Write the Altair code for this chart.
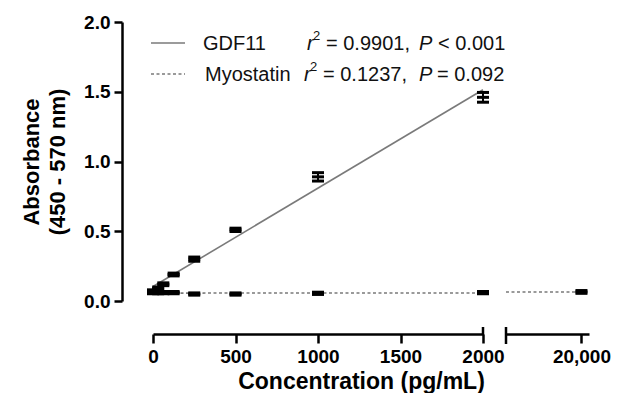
import altair as alt
import pandas as pd

# ---- data ----
conc = [0, 31.25, 62.5, 125, 250, 500, 1000, 2000]
gdf11_mean = [0.07, 0.09, 0.12, 0.19, 0.30, 0.51, 0.89, 1.46]
gdf11_err = [0.01, 0.01, 0.01, 0.01, 0.015, 0.012, 0.03, 0.035]

myo_conc = [0, 31.25, 62.5, 125, 250, 500, 1000, 2000, 20000]
myo_mean = [0.06, 0.06, 0.06, 0.06, 0.05, 0.05, 0.055, 0.06, 0.065]
myo_err = [0.008, 0.008, 0.008, 0.008, 0.008, 0.008, 0.008, 0.008, 0.01]

x_ticks_left = [0, 500, 1000, 1500, 2000]
x_ticks_right = [20000]
y_ticks = [0, 0.5, 1.0, 1.5, 2.0]

gdf = pd.DataFrame({"conc": conc, "mean": gdf11_mean, "err": gdf11_err})
gdf["lo"] = gdf["mean"] - gdf["err"]
gdf["hi"] = gdf["mean"] + gdf["err"]
myo = pd.DataFrame({"conc": myo_conc, "mean": myo_mean, "err": myo_err})
myo["lo"] = myo["mean"] - myo["err"]
myo["hi"] = myo["mean"] + myo["err"]
one = pd.DataFrame({"k": [0]})

FONT = "Liberation Sans"
LINE = "#7a7a7a"

ys = alt.Scale(domain=[0, 2], nice=False, zero=False)
xs_left = alt.Scale(domain=[0, 2000], nice=False, zero=False)
xs_right = alt.Scale(domain=[19000, 20100], nice=False, zero=False)

axis_common = dict(
    grid=False, domainColor="black", domainWidth=2.5, tickColor="black",
    tickWidth=2.5, labelFont=FONT, labelFontWeight="bold", labelColor="black",
    titleFont=FONT, titleFontWeight="bold", titleColor="black",
)

x_axis_left = alt.Axis(
    values=x_ticks_left, offset=33, tickSize=9, labelFontSize=19, labelPadding=4,
    labelExpr="format(datum.value, 'd')",
    title="Concentration (pg/mL)", titleFontSize=23, titlePadding=4, titleX=208,
    labelFlush=False, **axis_common,
)
x_axis_right = alt.Axis(
    values=x_ticks_right, offset=33, tickSize=9, labelFontSize=19, labelPadding=4,
    labelExpr="format(datum.value, ',d')", title=None, labelFlush=False, **axis_common,
)
y_axis = alt.Axis(
    values=y_ticks, format=".1f", offset=31, tickSize=8, labelFontSize=19,
    labelPadding=4, title=["Absorbance", "(450 - 570 nm)"], titleFontSize=22,
    titlePadding=14, titleLineHeight=26, **axis_common,
)

X_L = alt.X("conc:Q", scale=xs_left, axis=x_axis_left)
Y_L = alt.Y("mean:Q", scale=ys, axis=y_axis)


def errbars(data, xscale, xaxis, yaxis):
    base = alt.Chart(data)
    xenc = alt.X("conc:Q", scale=xscale, axis=xaxis)
    rule = base.mark_rule(color="black", strokeWidth=2).encode(
        x=xenc, y=alt.Y("lo:Q", scale=ys, axis=yaxis), y2="hi:Q")
    out = [rule]
    for f in ["hi", "lo", "mean"]:
        out.append(base.mark_tick(orient="horizontal", color="black", size=12,
                                  thickness=3, opacity=1).encode(
            x=xenc, y=alt.Y(f"{f}:Q", scale=ys, axis=yaxis)))
    return out


gdf_line = alt.Chart(gdf).transform_regression("conc", "mean").mark_line(
    color=LINE, strokeWidth=1.6).encode(x=X_L, y=Y_L)
myo_line_left = alt.Chart(myo).transform_regression("conc", "mean", extent=[0, 2000]).mark_line(
    color=LINE, strokeWidth=1.6, strokeDash=[3, 2.5]).encode(x=X_L, y=Y_L)

myo_left = myo[myo["conc"] <= 2000]
myo_right = myo[myo["conc"] > 2000]


def txt(s, x, y, size=20, style="normal"):
    return alt.Chart(one).mark_text(
        align="left", baseline="middle", font=FONT, fontSize=size, fontStyle=style,
        color="#111", text=s).encode(x=alt.value(x), y=alt.value(y))


leg = [
    alt.Chart(one).mark_rule(color=LINE, strokeWidth=1.6).encode(
        x=alt.value(-2), x2=alt.value(32), y=alt.value(21)),
    alt.Chart(one).mark_rule(color=LINE, strokeWidth=1.6, strokeDash=[3, 2.5]).encode(
        x=alt.value(-2), x2=alt.value(32), y=alt.value(52)),
    txt("GDF11", 50, 22),
    txt("r", 154, 22, style="italic"),
    txt("2", 160, 14, size=13),
    txt("= 0.9901,", 173, 22),
    txt("P", 266, 22, style="italic"),
    txt("< 0.001", 285, 22),
    txt("Myostatin", 52, 53),
    txt("r", 151, 53, style="italic"),
    txt("2", 157, 45, size=13),
    txt("= 0.1237,", 170, 53),
    txt("P", 266, 53, style="italic"),
    txt("= 0.092", 284, 53),
]

brk_left = alt.Chart(one).mark_rule(color="black", strokeWidth=2.5).encode(
    x=alt.X(datum=2000, scale=xs_left, axis=x_axis_left), y=alt.value(305), y2=alt.value(313))

left = alt.layer(
    gdf_line, myo_line_left,
    *errbars(gdf, xs_left, x_axis_left, y_axis),
    *errbars(myo_left, xs_left, x_axis_left, y_axis),
    brk_left, *leg,
).properties(width=330, height=279)

X_R = alt.X("conc:Q", scale=xs_right, axis=x_axis_right)
myo_line_right = alt.Chart(myo).transform_regression("conc", "mean", extent=[19000, 20000]).mark_line(
    color=LINE, strokeWidth=1.6, strokeDash=[3, 2.5]).encode(
    x=X_R, y=alt.Y("mean:Q", scale=ys, axis=None))
brk_right = alt.Chart(one).mark_rule(color="black", strokeWidth=2.5).encode(
    x=alt.value(0), y=alt.value(305), y2=alt.value(322))

right = alt.layer(
    myo_line_right,
    *errbars(myo_right, xs_right, x_axis_right, None),
    brk_right,
).properties(width=83, height=279)

chart = alt.hconcat(left, right, spacing=23, bounds="flush").properties(
    padding={"left": 12, "top": 5, "right": 0, "bottom": 0},
    background="white",
).configure_view(strokeWidth=0, stroke="transparent")

chart.save("out.html", embed_options={"renderer": "svg", "actions": False})
